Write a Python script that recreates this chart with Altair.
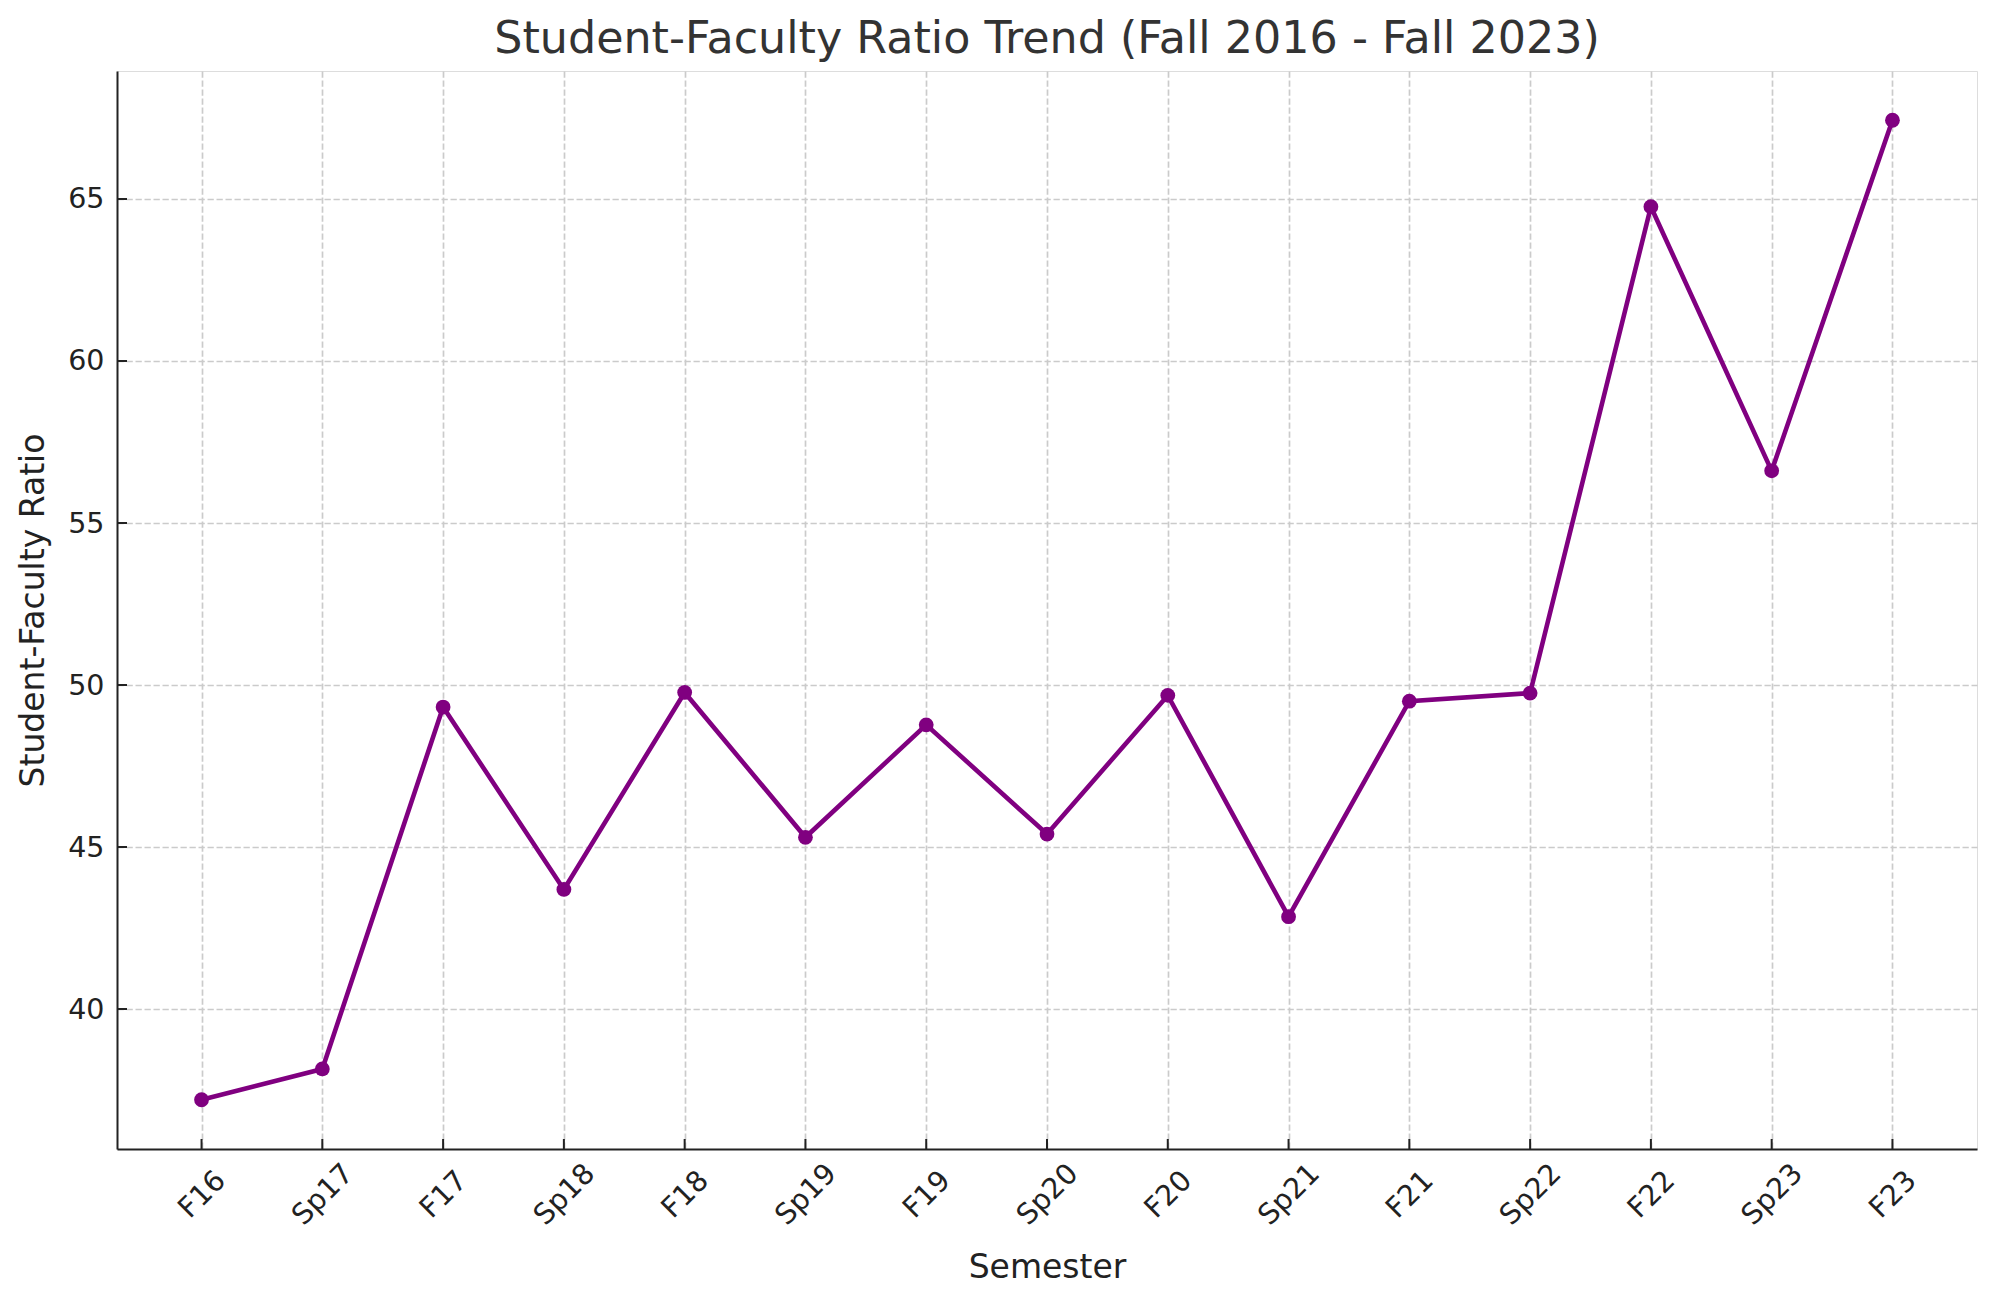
import altair as alt
import pandas as pd

semesters = ["F16", "Sp17", "F17", "Sp18", "F18", "Sp19", "F19", "Sp20",
             "F20", "Sp21", "F21", "Sp22", "F22", "Sp23", "F23"]
ratios = [37.20, 38.15, 49.32, 43.69, 49.77, 45.30, 48.77, 45.40,
          49.68, 42.85, 49.50, 49.75, 64.76, 56.61, 67.43]
y_ticks = [40, 45, 50, 55, 60, 65]

W, H = 1860, 1078
FONT = "DejaVu Sans"
PURPLE = "#800080"
AX = "#222222"
GRID = "#cbcbcb"

df = pd.DataFrame({"Semester": semesters, "Ratio": ratios})
df_xt = pd.DataFrame({"Semester": semesters})
df_yt = pd.DataFrame({"Ratio": y_ticks})

x_enc = alt.X(
    "Semester:N",
    sort=semesters,
    scale=alt.Scale(type="point", padding=0.7),
    axis=alt.Axis(
        title="Semester",
        titleFont=FONT, titleFontSize=33, titleFontWeight="normal", titleColor=AX,
        titleBaseline="alphabetic", titleX=W / 2, titleY=128, titleAlign="center",
        labelFont=FONT, labelFontSize=28.5, labelColor=AX,
        labelAngle=-45, labelAlign="center", labelBaseline="middle", labelPadding=45,
        ticks=False, tickSize=0,
        domainColor=AX, domainWidth=2,
        grid=True, gridColor=GRID, gridWidth=1.7, gridDash=[6.3, 2.7],
    ),
)
y_enc = alt.Y(
    "Ratio:Q",
    scale=alt.Scale(domain=[35.68, 68.95], nice=False, zero=False),
    axis=alt.Axis(
        title="Student-Faculty Ratio",
        titleFont=FONT, titleFontSize=33, titleFontWeight="normal", titleColor=AX,
        titleBaseline="alphabetic", titleAngle=-90, titleAlign="center",
        titleX=-74, titleY=H / 2,
        labelFont=FONT, labelFontSize=28.5, labelColor=AX, labelPadding=13,
        values=y_ticks,
        ticks=False, tickSize=0,
        domainColor=AX, domainWidth=2,
        grid=True, gridColor=GRID, gridWidth=1.7, gridDash=[6.3, 2.7],
    ),
)

xticks = alt.Chart(df_xt).mark_rule(color=AX, strokeWidth=2).encode(
    x=x_enc, y=alt.value(H), y2=alt.value(H - 10)
)
yticks = alt.Chart(df_yt).mark_rule(color=AX, strokeWidth=2).encode(
    y=y_enc, x=alt.value(0), x2=alt.value(10)
)
line = alt.Chart(df).mark_line(color=PURPLE, strokeWidth=4.6).encode(x=x_enc, y=y_enc)
pts = alt.Chart(df).mark_circle(color=PURPLE, size=219, opacity=1).encode(x=x_enc, y=y_enc)

chart = (
    alt.layer(xticks, yticks, line, pts)
    .properties(
        width=W,
        height=H,
        title=alt.TitleParams(
            "Student-Faculty Ratio Trend (Fall 2016 - Fall 2023)",
            font=FONT, fontSize=44.4, fontWeight="normal", color="#333333",
            anchor="middle", baseline="alphabetic", offset=16, dy=42,
        ),
        autosize=alt.AutoSizeParams(type="none"),
        padding={"left": 109, "top": 63, "right": 11, "bottom": 149},
    )
    .configure_view(stroke=None)
    .configure(background="white")
)

chart.save("out.html", embed_options={"renderer": "svg", "actions": False})
